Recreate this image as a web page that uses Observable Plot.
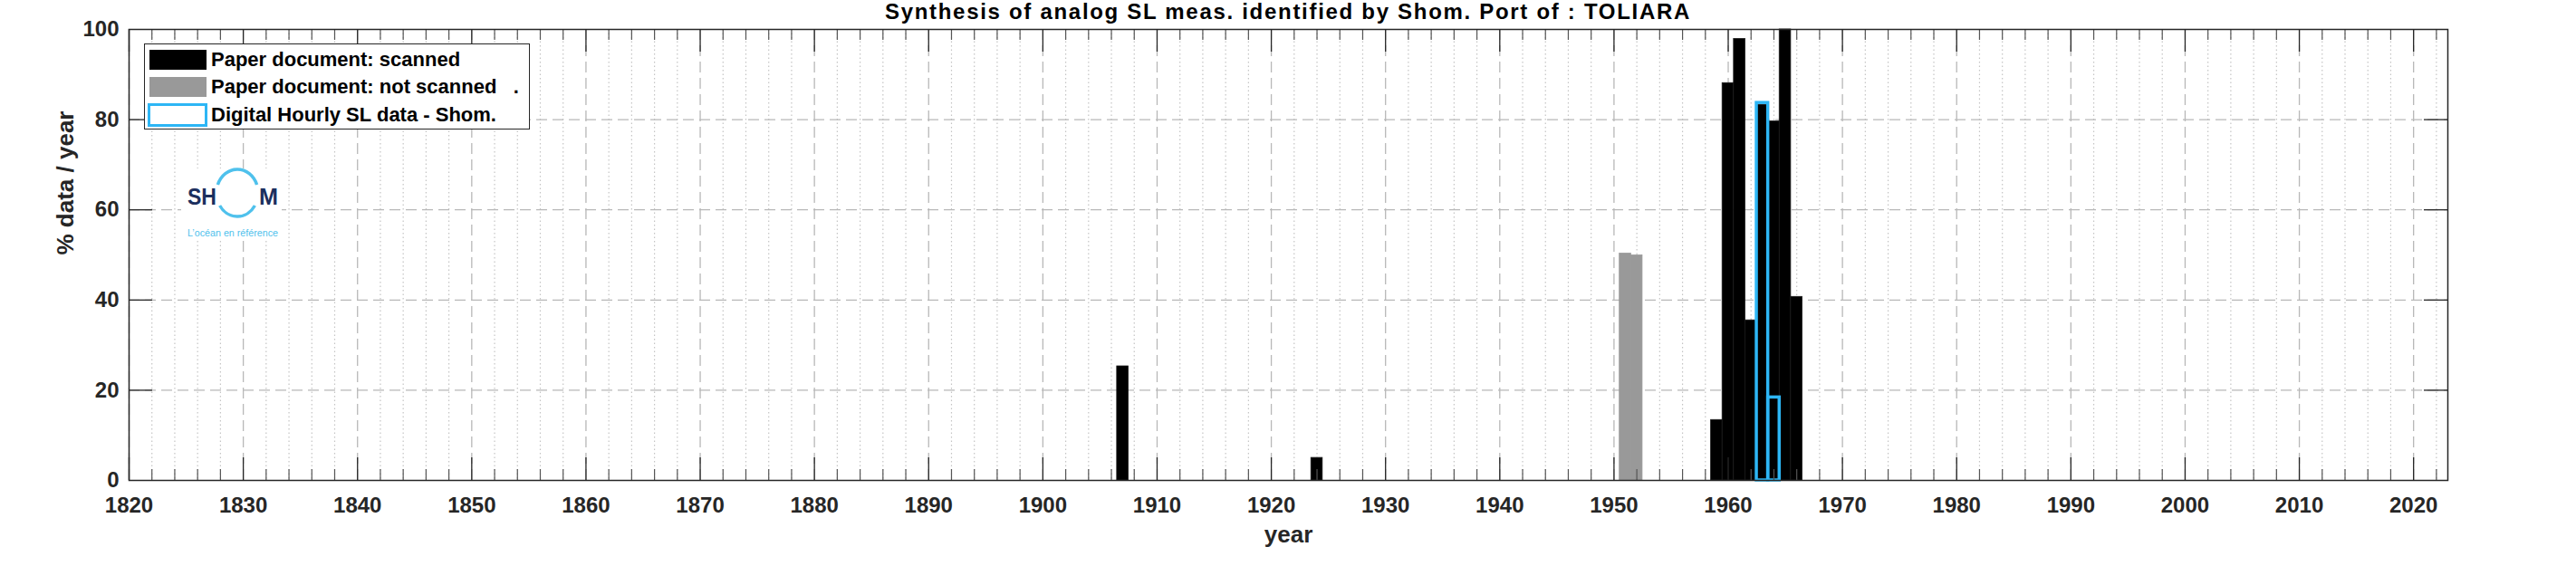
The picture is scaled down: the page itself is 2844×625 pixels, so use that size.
<!DOCTYPE html>
<html>
<head>
<meta charset="utf-8">
<script src="https://cdn.jsdelivr.net/npm/d3@7"></script>
<script src="https://cdn.jsdelivr.net/npm/@observablehq/plot@0.6"></script>
<style>
  html, body { margin: 0; padding: 0; background: white; }
  #page { position: relative; width: 2844px; height: 625px; overflow: hidden; font-family: "Liberation Sans", Arial, sans-serif; color: #262626; }
  #title { position: absolute; left: 142px; width: 2560px; top: 0; height: 26px; line-height: 26px; text-align: center; font-size: 24px; font-weight: bold; color: #000; white-space: pre; letter-spacing: 1.7px; }
  #chart { position: absolute; left: 0; top: 26px; }
  .abs { position: absolute; }
  #legend { left: 159px; top: 48px; width: 426px; height: 95px; border: 1.5px solid #262626; background: white; box-sizing: border-box; }
  .lgtext { position: absolute; left: 233px; font-size: 22px; font-weight: bold; color: #000; white-space: pre; line-height: 22px; }
</style>
</head>
<body>
<div id="page">
  <div id="title">Synthesis of analog SL meas. identified by Shom. Port of : TOLIARA</div>
  <div id="chart"></div>
</div>
<script>
// ---- data ----
const scannedYears = [1907, 1924, 1959, 1960, 1961, 1962, 1963, 1964, 1965, 1966];
const scannedPct   = [25.3, 5.0, 13.4, 88.1, 97.9, 35.5, 83.3, 79.6, 100, 40.7];
const notScannedYears = [1951, 1952];
const notScannedPct   = [50.3, 49.9];
const digitalYears = [1963, 1964];
const digitalPct   = [83.7, 18.4];
const xTickYears = [1820, 1830, 1840, 1850, 1860, 1870, 1880, 1890, 1900, 1910, 1920, 1930, 1940, 1950, 1960, 1970, 1980, 1990, 2000, 2010, 2020];
const yTicks = [0, 20, 40, 60, 80, 100];
const legendLabels = ["Paper document: scanned", "Paper document: not scanned   .", "Digital Hourly SL data - Shom."];
const seriesColors = ["#000000", "#999999", "#2db6f5"];

const scanned = scannedYears.map((y, i) => ({year: y, pct: scannedPct[i]}));
const notScanned = notScannedYears.map((y, i) => ({year: y, pct: notScannedPct[i]}));
const digital = digitalYears.map((y, i) => ({year: y, pct: digitalPct[i]}));
const minorYears = d3.range(1822, 2023, 2).filter(y => y % 10 !== 0);
const innerYTicks = yTicks.filter(v => v > 0 && v < 100);

const W = 2844, H = 599;
const mL = 142, mR = 142, mT = 6, mB = 95;
const fw = W - mL - mR, fh = H - mT - mB;
const dark = "#262626";

const chart = Plot.plot({
  width: W, height: H,
  marginLeft: mL, marginRight: mR, marginTop: mT, marginBottom: mB,
  style: {fontFamily: "Liberation Sans, Arial, sans-serif", background: "white", color: dark, overflow: "visible"},
  x: {domain: [1820, 2023]},
  y: {domain: [0, 100]},
  marks: [
    // minor dotted grid
    Plot.ruleX(minorYears, {x: d => d, stroke: "#c4c4c4", strokeWidth: 1.2, strokeDasharray: "1.5,3"}),
    // major dashed grid
    Plot.ruleX(xTickYears, {x: d => d, stroke: "#b8b8b8", strokeWidth: 1.3, strokeDasharray: "12,6"}),
    Plot.ruleY(innerYTicks, {y: d => d, stroke: "#b8b8b8", strokeWidth: 1.3, strokeDasharray: "12,6"}),
    // bars
    Plot.rectY(scanned, {x1: d => d.year - 0.5, x2: d => d.year + 0.5, y: "pct", fill: seriesColors[0], stroke: "#1a1a1a", strokeWidth: 0.8}),
    Plot.rectY(notScanned, {x1: d => d.year - 0.5, x2: d => d.year + 0.5, y: "pct", fill: seriesColors[1], stroke: "#9a9a9a", strokeWidth: 0.8}),
    Plot.rectY(digital, {x1: d => d.year - 0.5, x2: d => d.year + 0.5, y: "pct", fill: "none", stroke: seriesColors[2], strokeWidth: 3.5}),
    // ticks (inward, bottom and top)
    Plot.tickX(xTickYears, {x: d => d, insetTop: fh - 25, stroke: dark, strokeWidth: 1.3}),
    Plot.tickX(xTickYears, {x: d => d, insetBottom: fh - 25, stroke: dark, strokeWidth: 1.3}),
    Plot.tickX(minorYears, {x: d => d, insetTop: fh - 12, stroke: "#555", strokeWidth: 1.2}),
    Plot.tickX(minorYears, {x: d => d, insetBottom: fh - 12, stroke: "#555", strokeWidth: 1.2}),
    Plot.tickY(innerYTicks, {y: d => d, insetRight: fw - 26, stroke: dark, strokeWidth: 1.3}),
    Plot.tickY(innerYTicks, {y: d => d, insetLeft: fw - 26, stroke: dark, strokeWidth: 1.3}),
    Plot.frame({stroke: dark, strokeWidth: 1.5}),
    // axes
    Plot.axisX(xTickYears, {tickSize: 0, tickPadding: 18, fontSize: 24, fontWeight: "bold", tickFormat: d => String(d), label: null}),
    Plot.axisY(yTicks, {tickSize: 0, tickPadding: 11, fontSize: 24, fontWeight: "bold", label: null}),
    Plot.text(["year"], {frameAnchor: "bottom", dy: 60, text: d => d, fontSize: 26, fontWeight: "bold", fill: dark, lineAnchor: "middle"}),
    Plot.text(["% data / year"], {frameAnchor: "left", dx: -70, rotate: -90, text: d => d, fontSize: 26, fontWeight: "bold", fill: dark, lineAnchor: "middle"})
  ]
});
document.getElementById("chart").appendChild(chart);

// ---- legend overlay ----
const page = document.getElementById("page");
const lg = document.createElement("div");
lg.id = "legend"; lg.className = "abs";
page.appendChild(lg);
const swatches = [
  {top: 55, h: 22, left: 165, w: 63, bg: seriesColors[0], border: "none"},
  {top: 85, h: 22, left: 165, w: 63, bg: seriesColors[1], border: "none"},
  {top: 114, h: 26, left: 163, w: 66, bg: "white", border: "3.5px solid " + seriesColors[2]}
];
const textTops = [55, 85, 116];
swatches.forEach((s, i) => {
  const sw = document.createElement("div");
  sw.className = "abs";
  Object.assign(sw.style, {left: s.left + "px", top: s.top + "px", width: s.w + "px", height: s.h + "px", background: s.bg, border: s.border, boxSizing: "border-box"});
  page.appendChild(sw);
  const t = document.createElement("div");
  t.className = "lgtext";
  t.style.top = textTops[i] + "px";
  t.textContent = legendLabels[i];
  page.appendChild(t);
});

// ---- SHOM logo overlay ----
const ns = "http://www.w3.org/2000/svg";
const logo = document.createElementNS(ns, "svg");
logo.setAttribute("width", W); logo.setAttribute("height", 625);
logo.style.position = "absolute"; logo.style.left = "0"; logo.style.top = "0"; logo.style.pointerEvents = "none";
logo.innerHTML = `
  <rect x="200" y="186" width="111" height="80" fill="white"/>
  <text x="207" y="226" font-family="Liberation Sans, Arial, sans-serif" font-weight="bold" font-size="26" fill="#1b2f5e" textLength="32" lengthAdjust="spacingAndGlyphs">SH</text>
  <text x="286" y="226" font-family="Liberation Sans, Arial, sans-serif" font-weight="bold" font-size="26" fill="#1b2f5e" textLength="21" lengthAdjust="spacingAndGlyphs">M</text>
  <path d="M240.4 204 A23 26 0 0 1 283.6 204" fill="none" stroke="#4fc1ec" stroke-width="3.5"/>
  <path d="M242.6 227 A23 26 0 0 0 281.4 227" fill="none" stroke="#4fc1ec" stroke-width="3.5"/>
  <text x="207" y="261" font-family="Liberation Sans, Arial, sans-serif" font-size="10" fill="#4fc1ec" textLength="100" lengthAdjust="spacingAndGlyphs">L’océan en référence</text>
`;
page.appendChild(logo);
</script>
</body>
</html>
